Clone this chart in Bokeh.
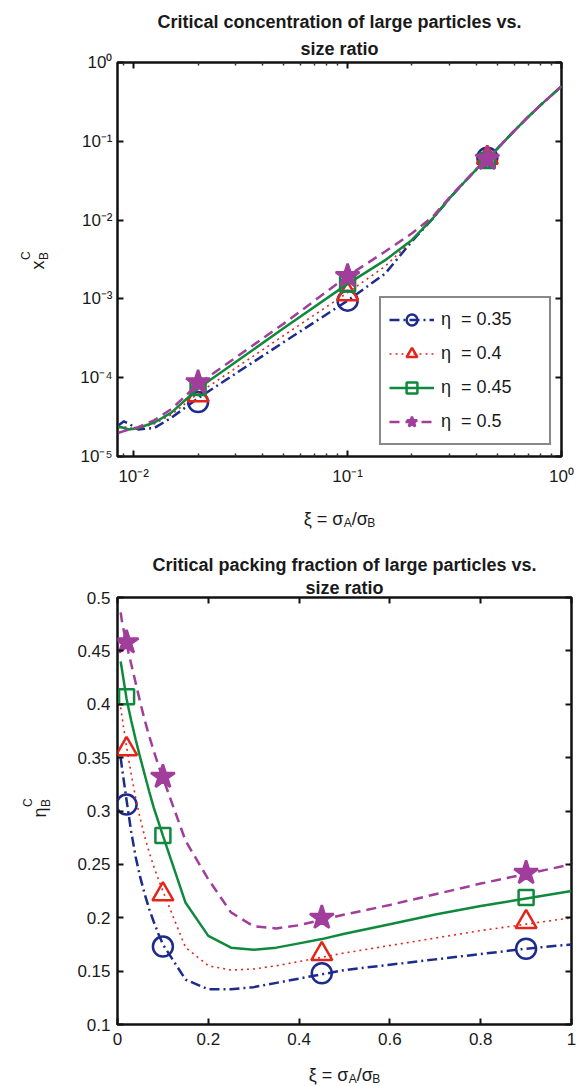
from math import pi
from bokeh.plotting import figure
from bokeh.models import (Label, LogAxis, LinearAxis, Legend, LegendItem, FixedTicker,
                          CustomJSTickFormatter, Range1d, Title)
from bokeh.layouts import column, row
from bokeh.embed import file_html
from bokeh.resources import INLINE

FONT = "Liberation Sans"

# ---------------- data ----------------
series_labels = ["η  = 0.35", "η  = 0.4", "η  = 0.45", "η  = 0.5"]

# panel (a): critical concentration x_B^C vs size ratio (log-log)
xa_curve = [0.0085, 0.009, 0.0095, 0.0105, 0.0125, 0.015, 0.02, 0.05, 0.1, 0.15, 0.2,
            0.25, 0.3, 0.35, 0.4, 0.45, 0.5, 0.6, 0.7, 0.8, 0.9, 1.0]
ya_035 = [2.5e-5, 2.8e-5, 2.6e-5, 2.2e-5, 2.3e-5, 3.1e-5, 5.5e-5, 2.8e-4, 9.5e-4, 2.1e-3, 5.4e-3,
          1.04e-2, 1.9e-2, 3.0e-2, 4.4e-2, 6.0e-2, 8.0e-2, 1.35e-1, 2.05e-1, 2.9e-1, 3.85e-1, 5.0e-1]
ya_040 = [2.3e-5, 2.4e-5, 2.3e-5, 2.25e-5, 2.6e-5, 3.4e-5, 6.3e-5, 3.4e-4, 1.2e-3, 2.6e-3, 5.5e-3,
          1.05e-2, 1.9e-2, 3.0e-2, 4.4e-2, 6.0e-2, 8.0e-2, 1.35e-1, 2.05e-1, 2.9e-1, 3.85e-1, 5.0e-1]
ya_045 = [2.4e-5, 2.3e-5, 2.2e-5, 2.3e-5, 2.7e-5, 3.6e-5, 7.3e-5, 4.2e-4, 1.55e-3, 3.1e-3, 5.6e-3,
          1.05e-2, 1.9e-2, 3.0e-2, 4.4e-2, 6.0e-2, 8.0e-2, 1.35e-1, 2.05e-1, 2.9e-1, 3.85e-1, 5.0e-1]
ya_050 = [2.0e-5, 2.1e-5, 2.2e-5, 2.35e-5, 2.9e-5, 4.0e-5, 8.3e-5, 4.8e-4, 1.95e-3, 4.0e-3, 6.8e-3,
          1.1e-2, 1.95e-2, 3.05e-2, 4.45e-2, 6.0e-2, 8.0e-2, 1.35e-1, 2.05e-1, 2.9e-1, 3.85e-1, 5.0e-1]
xa_pts = [0.02, 0.1, 0.45]
ya_pts_035 = [4.9e-5, 9.5e-4, 0.062]
ya_pts_040 = [6.0e-5, 1.15e-3, 0.062]
ya_pts_045 = [7.5e-5, 1.55e-3, 0.057]
ya_pts_050 = [8.7e-5, 1.95e-3, 0.060]

# panel (b): critical packing fraction eta_B^C vs size ratio
xb_curve = [0.007, 0.01, 0.02, 0.03, 0.04, 0.05, 0.06, 0.07, 0.08, 0.09, 0.1, 0.15, 0.2,
            0.25, 0.3, 0.35, 0.4, 0.45, 0.5, 0.6, 0.7, 0.8, 0.9, 1.0]
yb_035 = [0.350, 0.340, 0.310, 0.281, 0.257, 0.238, 0.222, 0.208, 0.196, 0.185, 0.175, 0.142, 0.133,
          0.133, 0.135, 0.139, 0.143, 0.147, 0.151, 0.156, 0.161, 0.166, 0.171, 0.175]
yb_040 = [0.397, 0.388, 0.360, 0.335, 0.312, 0.293, 0.276, 0.261, 0.248, 0.236, 0.225, 0.172, 0.155,
          0.151, 0.152, 0.155, 0.159, 0.163, 0.167, 0.174, 0.181, 0.188, 0.194, 0.200]
yb_045 = [0.440, 0.432, 0.405, 0.385, 0.367, 0.350, 0.334, 0.318, 0.303, 0.290, 0.277, 0.214, 0.183,
          0.172, 0.170, 0.172, 0.176, 0.180, 0.185, 0.194, 0.203, 0.211, 0.218, 0.225]
yb_050 = [0.486, 0.477, 0.456, 0.438, 0.420, 0.402, 0.385, 0.370, 0.356, 0.343, 0.331, 0.272, 0.236,
          0.205, 0.192, 0.190, 0.193, 0.198, 0.203, 0.212, 0.222, 0.232, 0.241, 0.250]
xb_pts_035 = [0.02, 0.1, 0.45, 0.9]
yb_pts_035 = [0.306, 0.173, 0.148, 0.171]
xb_pts_040 = [0.02, 0.1, 0.45, 0.9]
yb_pts_040 = [0.358, 0.222, 0.166, 0.196]
xb_pts_045 = [0.02, 0.1, 0.9]
yb_pts_045 = [0.407, 0.277, 0.219]
xb_pts_050 = [0.02, 0.1, 0.45, 0.9]
yb_pts_050 = [0.458, 0.332, 0.200, 0.242]

# ticks
a_xticks = [0.01, 0.1, 1.0]
a_xlabels = ["10⁻²", "10⁻¹", "10⁰"]
a_yticks = [1e-5, 1e-4, 1e-3, 1e-2, 1e-1, 1.0]
a_ylabels = ["10⁻⁵", "10⁻⁴", "10⁻³", "10⁻²", "10⁻¹", "10⁰"]
b_xticks = [0, 0.2, 0.4, 0.6, 0.8, 1.0]
b_xlabels = ["0", "0.2", "0.4", "0.6", "0.8", "1"]
b_yticks = [0.1, 0.15, 0.2, 0.25, 0.3, 0.35, 0.4, 0.45, 0.5]
b_ylabels = ["0.1", "0.15", "0.2", "0.25", "0.3", "0.35", "0.4", "0.45", "0.5"]

# ---------------- styles ----------------
colors = ["#1d2b8d", "#e2261c", "#0f8a3c", "#a13d9b"]
dashes = ["10 4 2 4", "2 4", "solid", "10 6"]
widths = [2.5, 1.6, 2.5, 2.5]
markers = ["circle", "triangle", "square", "star"]
msizes = [20, 21, 15, 25]
TXT = "#1a1a1a"


def fmt(tv, tl):
    return CustomJSTickFormatter(args=dict(tv=tv, tl=tl), code="""
        for (let i = 0; i < tv.length; i++) {
            if (Math.abs(tv[i] - tick) <= 1e-6 * Math.abs(tv[i]) + 1e-12) return tl[i];
        }
        return "";
    """)


def base_axis(ax, minor=False):
    ax.axis_line_color = None
    ax.major_tick_in = 6
    ax.major_tick_out = 0
    ax.major_tick_line_width = 2
    ax.major_tick_line_color = "#111111"
    ax.minor_tick_out = 0
    if minor:
        ax.minor_tick_in = 3
        ax.minor_tick_line_width = 1.5
        ax.minor_tick_line_color = "#333333"
    else:
        ax.minor_tick_in = 0
        ax.minor_tick_line_color = None


def main_axis(ax, standoff, minor=False):
    base_axis(ax, minor)
    ax.major_label_standoff = standoff
    ax.major_label_text_color = TXT
    ax.major_label_text_font = FONT
    ax.major_label_text_font_size = "17px"


def mirror_axis(ax, minor=False):
    base_axis(ax, minor)
    ax.formatter = CustomJSTickFormatter(code="return '';")
    ax.major_label_standoff = 0
    ax.major_label_text_font_size = "0px"


def main_fig(w, h, xr, yr, xtype, ytype, borders):
    l, r, t, b = borders
    p = figure(width=w, height=h, x_range=xr, y_range=yr, x_axis_type=xtype, y_axis_type=ytype,
               output_backend="svg", toolbar_location=None,
               min_border_left=l, min_border_right=r, min_border_top=t, min_border_bottom=b)
    p.grid.grid_line_color = None
    p.outline_line_color = "#111111"
    p.outline_line_width = 2.5
    p.outline_line_alpha = 1.0
    p.background_fill_color = "white"
    p.border_fill_color = "white"
    return p


def text_fig(w, h):
    p = figure(width=w, height=h, x_range=Range1d(0, 1), y_range=Range1d(0, 1),
               output_backend="svg", toolbar_location=None, min_border=0,
               x_axis_location=None, y_axis_location=None)
    p.grid.grid_line_color = None
    p.outline_line_color = None
    p.background_fill_color = "white"
    p.border_fill_color = "white"
    return p


def add_titles(p, line1, line2, standoff1, standoff2):
    # added nearest-first: second line sits just above the frame, first line above it
    p.add_layout(Title(text=line2, align="center", text_font=FONT, text_font_size="18px",
                       text_font_style="bold", text_color=TXT, standoff=standoff2), "above")
    p.add_layout(Title(text=line1, align="center", text_font=FONT, text_font_size="18px",
                       text_font_style="bold", text_color=TXT, standoff=standoff1), "above")


def txt(p, x, y, s, size=17, bold=False, align="left", baseline="alphabetic", angle=0.0):
    p.add_layout(Label(x=x, y=y, x_units="screen", y_units="screen", text=s,
                       text_font=FONT, text_font_size=f"{size}px",
                       text_font_style="bold" if bold else "normal",
                       text_color=TXT, text_align=align, text_baseline=baseline,
                       angle=angle))


EM = {"ξ": 0.50, "σ": 0.58, "η": 0.56, " ": 0.278, "=": 0.584, "/": 0.278,
      "A": 0.667, "B": 0.667, "C": 0.722, "x": 0.5}


def width(s, size):
    return sum(EM.get(c, 0.55) for c in s) * size


def hlabel(p, cx, y, parts):
    total = sum(width(s, sz) for s, sz, _ in parts)
    x = cx - total / 2
    for s, sz, dy in parts:
        txt(p, x, y + dy, s, size=sz)
        x += width(s, sz)


def vlabel(p, x, y0, main, sup, sub):
    # rotated label read bottom-to-top: main symbol, then stacked sup/sub
    txt(p, x, y0, main, size=18, angle=pi / 2)
    adv = width(main, 18) + 0.5
    txt(p, x - 12, y0 + adv, sup, size=12, angle=pi / 2)
    txt(p, x + 6, y0 + adv, sub, size=12, angle=pi / 2)


XLAB = [("ξ = σ", 18, 0), ("A", 12, -4), ("/σ", 18, 0), ("B", 12, -4)]
minor_a = [k * 10 ** e for e in (-3, -2, -1) for k in range(2, 10)]

# ================= panel (a) =================
ylab_a = text_fig(70, 488)
txt(ylab_a, 10, 418, "(a)", size=18)
vlabel(ylab_a, 37, 187, "x", "C", "B")

pa = main_fig(509, 488, Range1d(0.0084, 1.0), Range1d(1e-5, 1.0), "log", "log", (47, 18, 62, 32))
pa.xaxis.ticker = FixedTicker(ticks=a_xticks, minor_ticks=minor_a)
pa.yaxis.ticker = FixedTicker(ticks=a_yticks)
pa.xaxis.formatter = fmt(a_xticks, a_xlabels)
pa.yaxis.formatter = fmt(a_yticks, a_ylabels)
main_axis(pa.xaxis[0], 10, minor=True)
main_axis(pa.yaxis[0], 5)
ta = LogAxis(ticker=FixedTicker(ticks=a_xticks, minor_ticks=minor_a))
mirror_axis(ta, minor=True)
pa.add_layout(ta, "above")
ra = LogAxis(ticker=FixedTicker(ticks=a_yticks))
mirror_axis(ra)
pa.add_layout(ra, "right")
add_titles(pa, "Critical concentration of large particles vs.", "size ratio", 2, 8)

ya_all = [ya_035, ya_040, ya_045, ya_050]
ya_pts_all = [ya_pts_035, ya_pts_040, ya_pts_045, ya_pts_050]
items = []
for i in range(4):
    lr = pa.line(xa_curve, ya_all[i], line_color=colors[i], line_width=widths[i], line_dash=dashes[i])
    mr = pa.scatter(xa_pts, ya_pts_all[i], marker=markers[i], size=msizes[i], line_color=colors[i],
                    line_width=2.5, fill_color=colors[i] if markers[i] == "star" else None)
    items.append(LegendItem(label=series_labels[i], renderers=[lr, mr]))

leg = Legend(items=items, location=(262, 11), orientation="vertical",
             label_text_font=FONT, label_text_font_size="18px", label_text_color=TXT,
             glyph_width=45, glyph_height=27, label_height=27, label_width=100,
             label_standoff=7, spacing=7, padding=8, margin=0,
             border_line_color="#111111", border_line_width=2.5,
             background_fill_color="white", background_fill_alpha=1.0)
pa.add_layout(leg)

xlab_a = text_fig(579, 52)
hlabel(xlab_a, 339, 22, XLAB)

# ================= panel (b) =================
ylab_b = text_fig(70, 514)
txt(ylab_b, 10, 448, "(b)", size=18)
vlabel(ylab_b, 39, 207, "η", "C", "B")

pb = main_fig(509, 514, Range1d(0, 1), Range1d(0.1, 0.5), "linear", "linear", (47, 8, 57, 30))
pb.xaxis.ticker = FixedTicker(ticks=b_xticks)
pb.yaxis.ticker = FixedTicker(ticks=b_yticks)
pb.xaxis.formatter = fmt(b_xticks, b_xlabels)
pb.yaxis.formatter = fmt(b_yticks, b_ylabels)
main_axis(pb.xaxis[0], 8)
main_axis(pb.yaxis[0], 7)
tb = LinearAxis(ticker=FixedTicker(ticks=b_xticks))
mirror_axis(tb)
pb.add_layout(tb, "above")
rb = LinearAxis(ticker=FixedTicker(ticks=b_yticks))
mirror_axis(rb)
pb.add_layout(rb, "right")
add_titles(pb, "Critical packing fraction of large particles vs.", "size ratio", 2, 0)

yb_all = [yb_035, yb_040, yb_045, yb_050]
xb_pts_all = [xb_pts_035, xb_pts_040, xb_pts_045, xb_pts_050]
yb_pts_all = [yb_pts_035, yb_pts_040, yb_pts_045, yb_pts_050]
for i in range(4):
    pb.line(xb_curve, yb_all[i], line_color=colors[i], line_width=widths[i], line_dash=dashes[i])
    pb.scatter(xb_pts_all[i], yb_pts_all[i], marker=markers[i], size=msizes[i], line_color=colors[i],
               line_width=2.5, fill_color=colors[i] if markers[i] == "star" else None)

xlab_b = text_fig(579, 32)
hlabel(xlab_b, 344, 12, XLAB)

layout = column(row(ylab_a, pa), xlab_a, row(ylab_b, pb), xlab_b)
open("out.html", "w").write(file_html(layout, INLINE))
